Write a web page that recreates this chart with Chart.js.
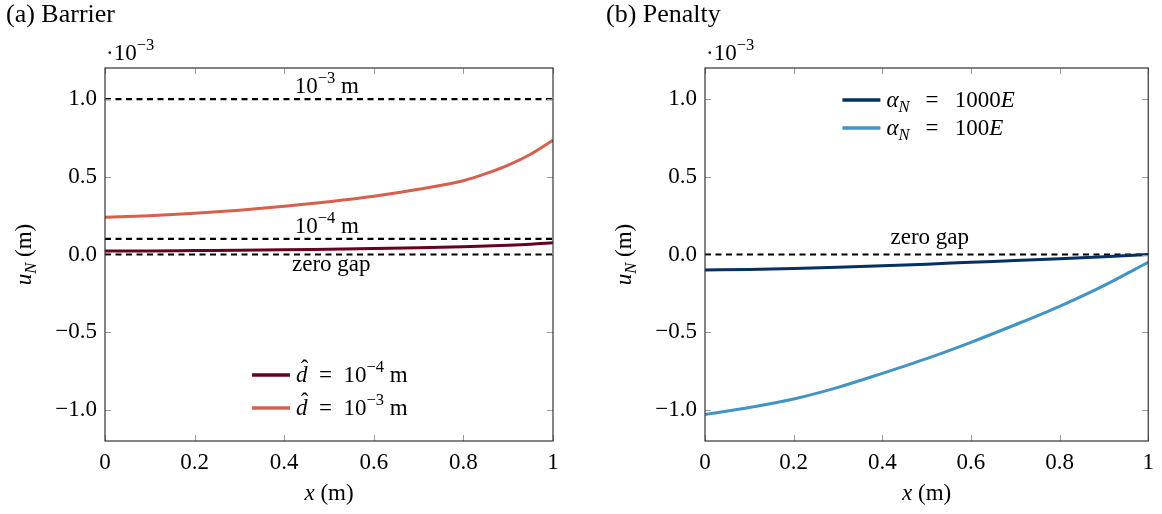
<!DOCTYPE html>
<html>
<head>
<meta charset="utf-8">
<script src="https://cdn.jsdelivr.net/npm/chart.js@4.4.0/dist/chart.umd.min.js"></script>
<style>
html, body { margin: 0; padding: 0; background: #fff; }
#wrap { position: relative; width: 1162px; height: 514px; }
#c1 { position: absolute; left: 0; top: 0; }
#c2 { position: absolute; left: 600px; top: 0; }
</style>
</head>
<body>
<div id="wrap">
  <canvas id="c1" width="581" height="514"></canvas>
  <canvas id="c2" width="562" height="514"></canvas>
</div>
<script>
// u_N is plotted in units of 1e-3 m
var xTicks = [0, 0.2, 0.4, 0.6, 0.8, 1];
var yTicks = [-1, -0.5, 0, 0.5, 1];

var barrierX = [0, 0.1, 0.2, 0.3, 0.4, 0.5, 0.6, 0.7, 0.8, 0.85, 0.9, 0.95, 1];
var barrierSmall = [0.022, 0.023, 0.025, 0.027, 0.030, 0.034, 0.038, 0.043, 0.050, 0.054, 0.059, 0.066, 0.076];
var barrierLarge = [0.240, 0.250, 0.265, 0.285, 0.310, 0.340, 0.375, 0.420, 0.475, 0.520, 0.575, 0.645, 0.735];
var barrierGaps = [1.0, 0.1, 0.0];

var penaltyX = [0, 0.1, 0.2, 0.3, 0.4, 0.5, 0.6, 0.7, 0.8, 0.9, 1];
var penaltyStiff = [-0.100, -0.096, -0.090, -0.082, -0.072, -0.062, -0.050, -0.039, -0.027, -0.014, 0.0];
var penaltySoft = [-1.030, -0.985, -0.930, -0.855, -0.765, -0.670, -0.565, -0.452, -0.333, -0.200, -0.050];
var penaltyGaps = [0.0];

var FONT = "'Liberation Serif', 'Times New Roman', serif";
var FS = 23;
var EQ = '\u2002=\u2002';
var EQ_WIDE = '\u2002\u2009=\u2002\u2009';

function pts(xs, ys) {
    return xs.map(function(x, i) { return { x: x, y: ys[i] }; });
}

function refLine(y) {
    return {
        data: [{ x: 0, y: y }, { x: 1, y: y }],
        borderColor: '#000',
        borderWidth: 2.2,
        borderDash: [6, 4.5],
        pointRadius: 0,
        order: 2
    };
}

function curve(xs, ys, color) {
    return {
        data: pts(xs, ys),
        borderColor: color,
        borderWidth: 3,
        pointRadius: 0,
        cubicInterpolationMode: 'monotone',
        order: 1
    };
}

// parts: [text, kind] with kind '' | 'i' | 'sup' | 'sub' | 'hat'
function setFont(ctx, kind, size) {
    var s = (kind === 'sup' || kind === 'sub') ? size * 0.72 : size;
    var style = (kind === 'i' || kind === 'sub' || kind === 'hat') ? 'italic ' : '';
    ctx.font = style + s + 'px ' + FONT;
}

function richWidth(ctx, parts, size) {
    var w = 0;
    parts.forEach(function(p) {
        setFont(ctx, p[1], size);
        w += ctx.measureText(p[0]).width;
    });
    return w;
}

function drawRich(ctx, parts, x, y, size, align) {
    var w = richWidth(ctx, parts, size);
    var cx = align === 'center' ? x - w / 2 : (align === 'right' ? x - w : x);
    ctx.textAlign = 'left';
    ctx.textBaseline = 'alphabetic';
    ctx.fillStyle = '#000';
    parts.forEach(function(p) {
        var kind = p[1];
        setFont(ctx, kind, size);
        var dy = kind === 'sup' ? -size * 0.42 : (kind === 'sub' ? size * 0.22 : 0);
        var tw = ctx.measureText(p[0]).width;
        ctx.fillText(p[0], cx, y + dy);
        if (kind === 'hat') {
            ctx.font = size + 'px ' + FONT;
            ctx.textAlign = 'center';
            ctx.fillText('\u02C6', cx + tw / 2 + 3, y - size * 0.26);
            ctx.textAlign = 'left';
        }
        cx += tw;
    });
}

var decorPlugin = {
    id: 'decor',
    afterDraw: function(chart, args, o) {
        var ctx = chart.ctx;
        var a = chart.chartArea;
        var xs = chart.scales.x, ys = chart.scales.y;
        ctx.save();

        // tick marks on all four sides, pointing inward
        ctx.strokeStyle = '#9a9a9a';
        ctx.lineWidth = 1;
        ctx.beginPath();
        xTicks.forEach(function(v) {
            var px = Math.round(xs.getPixelForValue(v)) + 0.5;
            ctx.moveTo(px, a.bottom); ctx.lineTo(px, a.bottom - 6);
            ctx.moveTo(px, a.top); ctx.lineTo(px, a.top + 6);
        });
        yTicks.forEach(function(v) {
            var py = Math.round(ys.getPixelForValue(v)) + 0.5;
            ctx.moveTo(a.left, py); ctx.lineTo(a.left + 6, py);
            ctx.moveTo(a.right, py); ctx.lineTo(a.right - 6, py);
        });
        ctx.stroke();

        // frame
        ctx.strokeStyle = '#333';
        ctx.lineWidth = 1.2;
        ctx.strokeRect(a.left, a.top, a.right - a.left, a.bottom - a.top);

        // panel title and scale factor
        ctx.font = '26px ' + FONT;
        ctx.fillStyle = '#000';
        ctx.textAlign = 'left';
        ctx.textBaseline = 'alphabetic';
        ctx.fillText(o.title, 6, 22);
        drawRich(ctx, [['\u00B710', ''], ['\u22123', 'sup']], a.left + 1, 60, FS, 'left');

        // axis titles
        drawRich(ctx, [['x', 'i'], [' (m)', '']], (a.left + a.right) / 2, 500, FS, 'center');
        ctx.save();
        ctx.translate(31, (a.top + a.bottom) / 2);
        ctx.rotate(-Math.PI / 2);
        drawRich(ctx, [['u', 'i'], ['N', 'sub'], [' (m)', '']], 0, 0, FS, 'center');
        ctx.restore();

        // labels on the gap lines
        o.notes.forEach(function(n) {
            var px = xs.getPixelForValue(n.x);
            var py = ys.getPixelForValue(n.y) + n.dy;
            drawRich(ctx, n.parts, px, py, FS, 'center');
        });

        // legend
        o.legend.forEach(function(e, i) {
            var lx = xs.getPixelForValue(o.legendAt.x);
            var ly = ys.getPixelForValue(o.legendAt.y) + i * o.legendAt.step;
            ctx.strokeStyle = e.color;
            ctx.lineWidth = 3.5;
            ctx.beginPath();
            ctx.moveTo(lx, ly);
            ctx.lineTo(lx + 38, ly);
            ctx.stroke();
            drawRich(ctx, e.parts, lx + 44, ly + 7, FS, 'left');
        });

        ctx.restore();
    }
};

function fmtY(v) {
    return (v < 0 ? '\u2212' : '') + Math.abs(v).toFixed(1);
}

function fmtX(v) {
    return (v === 0 || v === 1) ? String(v) : v.toFixed(1);
}

function makeChart(id, datasets, rightPad, decor) {
    return new Chart(document.getElementById(id), {
        type: 'line',
        data: { datasets: datasets },
        options: {
            responsive: false,
            animation: false,
            events: [],
            layout: { padding: { left: 0, right: rightPad, top: 68, bottom: 0 } },
            plugins: {
                legend: { display: false },
                tooltip: { enabled: false },
                decor: decor
            },
            scales: {
                x: {
                    type: 'linear',
                    min: 0,
                    max: 1,
                    grid: { display: false, drawTicks: false },
                    border: { display: false },
                    afterBuildTicks: function(s) { s.ticks = xTicks.map(function(v) { return { value: v }; }); },
                    afterFit: function(s) { s.height = 73; },
                    ticks: {
                        padding: 8,
                        color: '#000',
                        font: { family: FONT, size: FS },
                        maxRotation: 0,
                        callback: function(v) { return fmtX(v); }
                    }
                },
                y: {
                    type: 'linear',
                    min: -1.2,
                    max: 1.2,
                    grid: { display: false, drawTicks: false },
                    border: { display: false },
                    afterBuildTicks: function(s) { s.ticks = yTicks.map(function(v) { return { value: v }; }); },
                    afterFit: function(s) { s.width = 105; },
                    ticks: {
                        padding: 8,
                        color: '#000',
                        font: { family: FONT, size: FS },
                        callback: function(v) { return fmtY(v); }
                    }
                }
            }
        },
        plugins: [decorPlugin]
    });
}

var colSmall = '#67001f', colLarge = '#d6604d';
var colStiff = '#053061', colSoft = '#4393c3';

makeChart('c1',
    barrierGaps.map(refLine).concat([
        curve(barrierX, barrierSmall, colSmall),
        curve(barrierX, barrierLarge, colLarge)
    ]),
    28,
    {
        title: '(a) Barrier',
        notes: [
            { x: 0.495, y: barrierGaps[0], dy: -6, parts: [['10', ''], ['\u22123', 'sup'], [' m', '']] },
            { x: 0.495, y: barrierGaps[1], dy: -6, parts: [['10', ''], ['\u22124', 'sup'], [' m', '']] },
            { x: 0.505, y: barrierGaps[2], dy: 16, parts: [['zero gap', '']] }
        ],
        legendAt: { x: 0.328, y: -0.775, step: 33 },
        legend: [
            { color: colSmall, parts: [['d', 'hat'], [EQ + '10', ''], ['\u22124', 'sup'], [' m', '']] },
            { color: colLarge, parts: [['d', 'hat'], [EQ + '10', ''], ['\u22123', 'sup'], [' m', '']] }
        ]
    });

makeChart('c2',
    penaltyGaps.map(refLine).concat([
        curve(penaltyX, penaltyStiff, colStiff),
        curve(penaltyX, penaltySoft, colSoft)
    ]),
    9,
    {
        title: '(b) Penalty',
        notes: [
            { x: 0.507, y: penaltyGaps[0], dy: -11, parts: [['zero gap', '']] }
        ],
        legendAt: { x: 0.31, y: 0.994, step: 28 },
        legend: [
            { color: colStiff, parts: [['\u03B1', 'i'], ['N', 'sub'], [EQ_WIDE + '1000', ''], ['E', 'i']] },
            { color: colSoft, parts: [['\u03B1', 'i'], ['N', 'sub'], [EQ_WIDE + '100', ''], ['E', 'i']] }
        ]
    });
</script>
</body>
</html>
